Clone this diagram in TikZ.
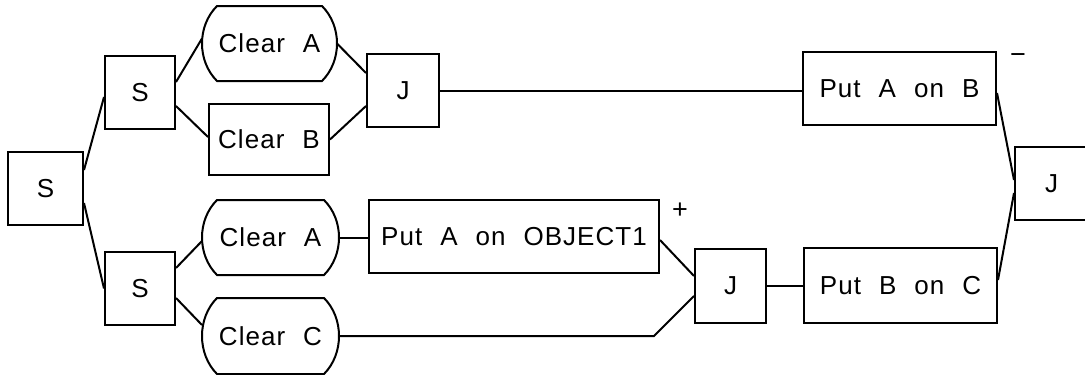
\documentclass[tikz,border=0pt]{standalone}
\usepackage{fontspec}
\setmainfont{Liberation Sans}[LetterSpace=4]
\usetikzlibrary{calc}
\newcommand\labfont{\fontsize{26}{30}\selectfont\spaceskip=18pt\relax}
\newcommand\clrshape[1]{%
  \draw ([xshift=15pt]#1.north west) -- ([xshift=-15pt]#1.north east)
    .. controls ([xshift=5pt,yshift=-20pt]#1.north east) and ([xshift=5pt,yshift=20pt]#1.south east) .. ([xshift=-15pt]#1.south east)
    -- ([xshift=15pt]#1.south west)
    .. controls ([xshift=-5pt,yshift=20pt]#1.south west) and ([xshift=-5pt,yshift=-20pt]#1.north west) .. ([xshift=15pt]#1.north west)
    -- cycle;}
\begin{document}
\begin{tikzpicture}[x=1pt,y=-1pt,line width=2pt,line join=miter,
  box/.style={draw, inner sep=0pt, minimum height=73pt, font=\labfont},
  clr/.style={box, draw=none},
  sign/.style={inner sep=0pt, font=\fontsize{27}{30}\selectfont}]
\useasboundingbox (0,0) rectangle (1085,375);
\node[box, minimum width=75pt] (s0) at (45.5,188.5) {S};
\node[box, minimum width=70pt] (s1) at (140,92.5) {S};
\node[box, minimum width=70pt] (s2) at (140,288.5) {S};
\node[clr, minimum width=133pt] (ca1) at (269.5,43.5) {Clear A};
\node[box, minimum width=120pt, minimum height=71pt] (cb) at (269,139.5) {Clear B};
\node[box, minimum width=72pt] (j1) at (403,90.5) {J};
\node[box, minimum width=193pt] (pab) at (899.5,88.5) {Put A on B};
\node[clr, minimum width=135pt] (ca2) at (270.5,237.5) {Clear A};
\node[box, minimum width=290pt] (pao) at (514,236.5) {Put A on OBJECT1};
\node[clr, minimum width=135pt, minimum height=74pt] (cc) at (270.5,336) {Clear C};
\node[box, minimum width=71pt, minimum height=74pt] (j2) at (730.5,286) {J};
\node[box, minimum width=193pt, minimum height=75pt] (pbc) at (900.5,285.5) {Put B on C};
\node[box, minimum width=73pt] (j3) at (1051.5,183.5) {J};
\node[sign] (plus) at (680,211) {+};
\node[sign] (minus) at (1018,59) {−};
\clrshape{ca1}
\clrshape{ca2}
\clrshape{cc}
\draw ([yshift=18.5pt]s0.east) -- ([yshift=-4.5pt]s1.west);
\draw ([yshift=-14.5pt]s0.east) -- (s2.west);
\draw ([yshift=10.5pt]s1.east) -- ([yshift=5pt]ca1.west);
\draw ([yshift=-13.5pt]s1.east) -- ([yshift=2.5pt]cb.west);
\draw (ca1.east) -- ([yshift=17.5pt]j1.west);
\draw (cb.east) -- ([yshift=-15.5pt]j1.west);
\draw (j1.east) -- (j1.east -| pab.west);
\draw ([yshift=-4.5pt]pab.east) -- ([yshift=3.5pt]j3.west);
\draw ([yshift=5.5pt]pbc.east) -- ([yshift=-9.5pt]j3.west);
\draw (ca2.east) -- (ca2.east -| pao.west);
\draw ([yshift=20.5pt]s2.east) -- ([yshift=-3.5pt]ca2.west);
\draw ([yshift=-9.5pt]s2.east) -- ([yshift=11pt]cc.west);
\draw ([yshift=-3.5pt]pao.east) -- ([yshift=10pt]j2.west);
\draw (cc.east) -- ($(cc.east -| j2.west)+(-40,0)$) -- ([yshift=-10pt]j2.west);
\draw (j2.east) -- (j2.east -| pbc.west);
\end{tikzpicture}
\end{document}
